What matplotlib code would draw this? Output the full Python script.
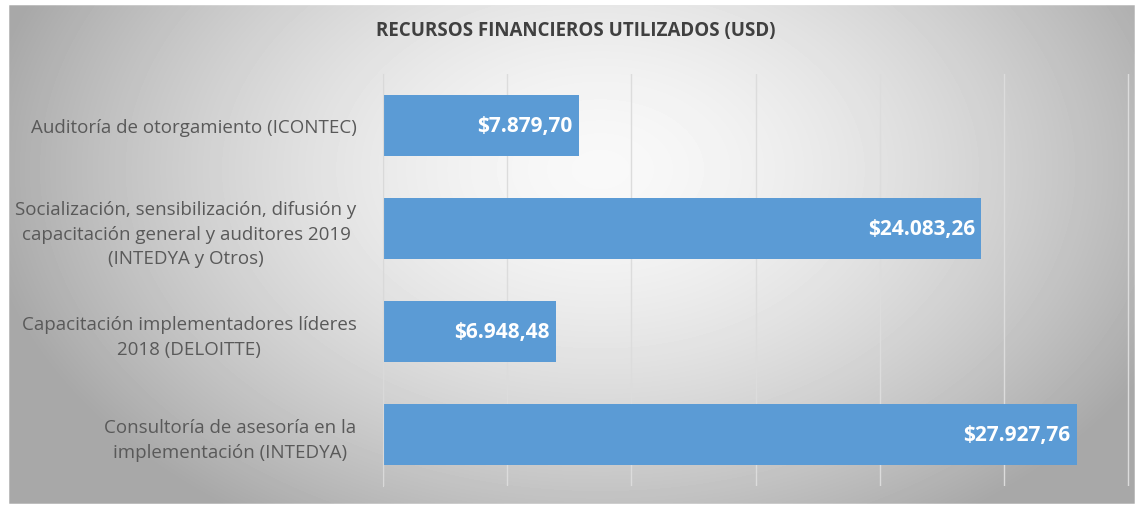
import numpy as np
import matplotlib
matplotlib.use("Agg")
import matplotlib.pyplot as plt
from matplotlib.patches import Rectangle

categories = [
    "Auditoría de otorgamiento (ICONTEC)",
    "Socialización, sensibilización, difusión y\ncapacitación general y auditores 2019\n(INTEDYA y Otros)",
    "Capacitación implementadores líderes\n2018 (DELOITTE)",
    "Consultoría de asesoría en la\nimplementación (INTEDYA)",
]
values = [7879.70, 24083.26, 6948.48, 27927.76]
value_labels = ["$7.879,70", "$24.083,26", "$6.948,48", "$27.927,76"]
title = "RECURSOS FINANCIEROS UTILIZADOS (USD)"
xticks = [0, 5000, 10000, 15000, 20000, 25000, 30000]

W, H = 1143, 510
fig = plt.figure(figsize=(W / 100, H / 100), dpi=100)
fig.patch.set_facecolor("white")

# background radial gradient
bg = fig.add_axes([0, 0, 1, 1], zorder=0)
yy, xx = np.mgrid[0:H, 0:W]
cx, cy = 600, 170
r = np.sqrt(((xx - cx) / 620.0) ** 2 + ((yy - cy) / 420.0) ** 2)
r = np.clip(r, 0, 1)
light, dark = 0.975, 0.66
img = light - (light - dark) * r ** 1.6
bg.imshow(img, cmap="gray", vmin=0, vmax=1, extent=[0, W, H, 0], aspect="auto", interpolation="bilinear")
bg.add_patch(Rectangle((8, 5), 1127, 500, fill=False, edgecolor="#d0d0d0", lw=1))
bg.set_xlim(0, W)
bg.set_ylim(H, 0)
bg.axis("off")
bg.add_patch(Rectangle((0, 0), W, 5, color="white", zorder=3))
bg.add_patch(Rectangle((0, 0), 8, H, color="white", zorder=3))
bg.add_patch(Rectangle((1135, 0), 8, H, color="white", zorder=3))
bg.add_patch(Rectangle((0, 505), W, 5, color="white", zorder=3))

# plot area
x0, x1 = 383, 1131
y0, y1 = 75, 487
ax = fig.add_axes([x0 / W, 1 - y1 / H, (x1 - x0) / W, (y1 - y0) / H], zorder=1)
ax.patch.set_alpha(0)
ypos = np.arange(len(categories))
ax.barh(ypos, values, height=0.6, color="#5B9BD5", zorder=2)
ax.set_xlim(0, 30000 * (x1 - x0) / 745.0)
ax.set_ylim(len(categories) - 0.5, -0.5)
ax.set_xticks(xticks)
for t in xticks:
    ax.axvline(t, color="#dcdcdc", lw=1.0, zorder=1)
ax.tick_params(axis="x", length=0, labelbottom=False)
ax.tick_params(axis="y", length=0, pad=19)
ax.set_yticks(ypos)
ax.set_yticklabels(categories, fontsize=13.5, color="#595959", family="Open Sans",
                   ha="right", multialignment="center", linespacing=1.45)
for s in ["top", "right", "bottom"]:
    ax.spines[s].set_visible(False)
ax.spines["left"].set_color("#d9d9d9")

for i, (v, lab) in enumerate(zip(values, value_labels)):
    ax.text(v - 250, i, lab, ha="right", va="center", color="white",
            fontsize=15, fontweight="bold", family="Open Sans", zorder=3)

fig.text(576 / W, 1 - 31 / H, title, ha="center", va="center", fontsize=13.5,
         fontweight="bold", color="#404040", family="Open Sans")

fig.savefig("out.png", dpi=100)
